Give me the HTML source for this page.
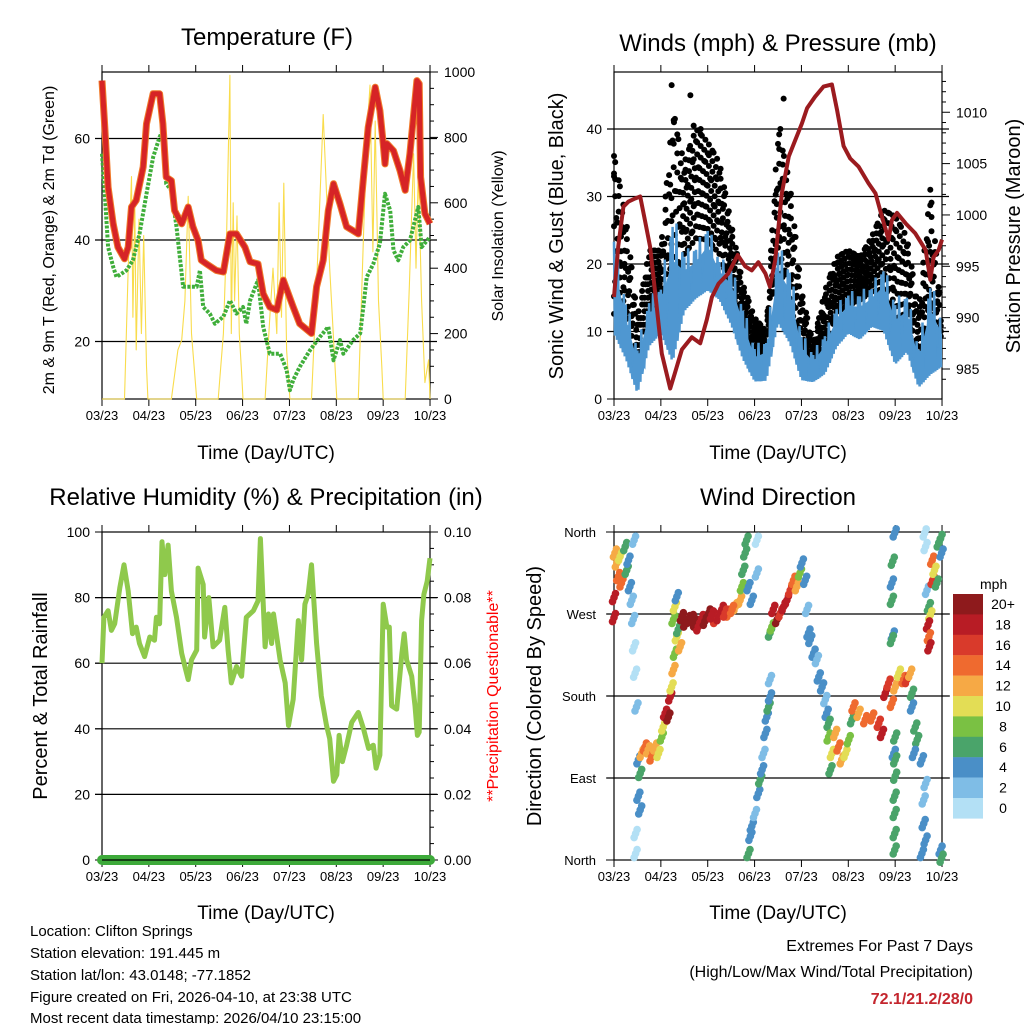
<!DOCTYPE html>
<html><head><meta charset="utf-8"><style>
html,body{margin:0;padding:0;background:#fff}
svg{display:block;font-family:"Liberation Sans",Arial,sans-serif}
</style></head><body>
<svg id="c" width="1024" height="1024" viewBox="0 0 1024 1024" xmlns="http://www.w3.org/2000/svg">
<rect width="1024" height="1024" fill="#fff"/>
<text x="267" y="45" font-size="24" text-anchor="middle">Temperature (F)</text>
<text x="778" y="51" font-size="24" text-anchor="middle">Winds (mph) &amp; Pressure (mb)</text>
<text x="266" y="505" font-size="24" text-anchor="middle">Relative Humidity (%) &amp; Precipitation (in)</text>
<text x="778" y="505" font-size="24" text-anchor="middle">Wind Direction</text>
<text x="266" y="459" font-size="19" text-anchor="middle">Time (Day/UTC)</text>
<text x="778" y="459" font-size="19" text-anchor="middle">Time (Day/UTC)</text>
<text x="266" y="919" font-size="19" text-anchor="middle">Time (Day/UTC)</text>
<text x="778" y="919" font-size="19" text-anchor="middle">Time (Day/UTC)</text>
<text transform="translate(54,240) rotate(-90)" font-size="16" text-anchor="middle">2m &amp; 9m T (Red, Orange) &amp; 2m Td (Green)</text>
<text transform="translate(503,236) rotate(-90)" font-size="16" text-anchor="middle">Solar Insolation (Yellow)</text>
<text transform="translate(563,236) rotate(-90)" font-size="20" text-anchor="middle">Sonic Wind &amp; Gust (Blue, Black)</text>
<text transform="translate(1020,236) rotate(-90)" font-size="20" text-anchor="middle">Station Pressure (Maroon)</text>
<text transform="translate(47,696) rotate(-90)" font-size="20" text-anchor="middle">Percent &amp; Total Rainfall</text>
<text transform="translate(498,696) rotate(-90)" font-size="16" fill="#ff0000" text-anchor="middle">**Precipitation Questionable**</text>
<text transform="translate(541,696) rotate(-90)" font-size="20" text-anchor="middle">Direction (Colored By Speed)</text>
<g font-size="15">
<text x="30" y="936">Location: Clifton Springs</text>
<text x="30" y="958">Station elevation: 191.445 m</text>
<text x="30" y="980">Station lat/lon: 43.0148; -77.1852</text>
<text x="30" y="1002">Figure created on Fri, 2026-04-10, at 23:38 UTC</text>
<text x="30" y="1023">Most recent data timestamp: 2026/04/10 23:15:00</text>
</g>
<text x="973" y="951" font-size="16" text-anchor="end">Extremes For Past 7 Days</text>
<text x="973" y="977" font-size="16" text-anchor="end">(High/Low/Max Wind/Total Precipitation)</text>
<text x="973" y="1004" font-size="16" font-weight="bold" fill="#c4262e" text-anchor="end">72.1/21.2/28/0</text>
</svg>
<script>
// ---- data ----
const dateLabels=["03/23","04/23","05/23","06/23","07/23","08/23","09/23","10/23"];
const tempT=[0,.06,.13,.24,.34,.48,.56,.63,.73,.88,.95,1.09,1.23,1.30,1.37,1.48,1.55,1.70,1.84,1.94,2.05,2.12,2.23,2.44,2.59,2.73,2.87,3.05,3.16,3.33,3.44,3.58,3.73,3.87,4.08,4.22,4.47,4.58,4.72,4.83,4.94,5.08,5.22,5.47,5.58,5.68,5.83,5.93,6.00,6.04,6.08,6.22,6.36,6.47,6.57,6.72,6.77,6.80,6.89,7.0];
const tempV=[71.4,62.2,50.4,43.2,38.6,36.3,38.6,46.5,47.8,54.4,62.9,68.8,68.8,62.9,52.4,51.7,45.8,43.2,46.5,42.6,39.9,36,35.3,34,33.7,41.2,41.2,38.6,35.7,35.3,29.4,26.8,26.2,32.1,26.8,23.5,21.6,30.8,36,45.8,51.1,47.1,42.6,41.2,52.4,62.2,70.1,65.5,59,55,59,57.6,53.7,49.8,57,71.4,70.8,52.4,45.2,43.2];
const dewT=[0,.06,.13,.24,.31,.52,.66,.80,.95,1.09,1.23,1.30,1.37,1.48,1.59,1.73,1.87,2.02,2.09,2.16,2.30,2.41,2.59,2.73,2.87,3.01,3.08,3.16,3.33,3.44,3.58,3.80,3.94,4.01,4.08,4.22,4.44,4.65,4.83,4.94,5.08,5.15,5.36,5.51,5.65,5.79,5.93,6.04,6.15,6.22,6.32,6.43,6.57,6.75,6.82,7];
const dewV=[57,49.1,38.6,34.7,32.7,34,36,41.2,49.1,56.3,60.3,61.6,51.1,49.8,42.6,30.8,30.8,30.8,34,26.8,25.5,23.5,24.9,28.1,25.5,26.8,23.5,28.1,32.1,22.9,17.6,17.6,14.4,10.4,12.4,15,18.3,20.9,22.9,16.3,20.3,17.6,20.3,21.6,32.7,35.3,39.3,49.1,45.8,38,36,38.6,39.9,46.5,38.6,40.6];
const solarT=[0,.48,.56,.63,.66,.70,.73,.79,.84,.89,.95,.98,1.48,1.62,1.70,1.77,1.84,1.91,2.02,2.48,2.59,2.66,2.73,2.76,2.80,2.83,2.88,2.93,2.98,3.01,3.48,3.58,3.65,3.73,3.78,3.83,3.88,3.94,4.01,4.47,4.58,4.72,4.86,5.01,5.47,5.58,5.65,5.72,5.78,5.83,5.90,5.97,6.00,6.47,6.56,6.65,6.70,6.75,6.82,6.89,6.97,7];
const solarV=[0,0,400,680,250,600,150,550,200,500,100,0,0,150,180,300,620,200,0,0,200,500,990,200,600,300,560,200,80,0,0,250,400,200,600,250,660,150,0,0,350,870,400,0,0,500,800,960,450,850,300,100,0,0,350,750,400,700,300,50,120,0];
const presT=[0,.09,.20,.31,.45,.56,.66,.77,.88,1.02,1.20,1.30,1.45,1.66,1.84,1.98,2.09,2.23,2.44,2.64,2.80,2.94,3.08,3.23,3.33,3.44,3.58,3.73,3.87,4.01,4.12,4.29,4.47,4.65,4.76,4.90,5.04,5.22,5.43,5.58,5.72,5.86,5.93,6.04,6.22,6.43,6.65,6.75,6.82,6.93,7];
const presV=[992,996.9,1000.8,1001.3,1001.6,1001.8,999.5,996.9,992.4,986.5,983.1,984.6,986.9,988.1,987.5,989.8,992,993.3,994.3,996.1,995,994.6,995.4,994.3,993,995.6,1002.1,1005.7,1007.3,1008.9,1010.4,1011.5,1012.5,1012.7,1010.2,1006.7,1005.5,1004.7,1003.1,1002.1,999.8,997.6,999.5,1000.2,999.2,998.2,996.6,993.7,995.9,996.6,997.6];
const windT=[0,.25,.5,.75,1,1.25,1.5,1.75,2,2.25,2.5,2.75,3,3.25,3.5,3.75,4,4.25,4.5,4.75,5,5.25,5.5,5.75,6,6.25,6.5,6.75,7];
const windLo=[8,5,0,7,9,3,12,14,15,14,10,5,2,2,10,7,2,2,3,7,9,8,10,9,4,6,1,2,4];
const windHi=[25,15,8,15,17,28,22,23,26,21,20,14,8,9,23,20,10,7,10,14,16,16,17,20,15,16,8,18,12];
const gustLo=[10,8,2,12,14,5,20,22,22,20,15,10,6,5,18,13,5,5,6,12,13,14,15,15,8,10,3,8,6];
const gustHi=[36,27,12,22,22,42,35,40,38,35,26,17,12,10,40,32,16,8,16,21,22,21,24,28,27,24,13,31,12];
const gustOutT=[0,0,1.23,1.28,1.30,1.63,1.70,1.85,3.55,3.62,6.75];
const gustOutV=[36,33,46.5,41,41.5,45,40.5,40,40,44.5,31];
const rhT=[0,.04,.13,.20,.27,.38,.47,.56,.65,.73,.80,.91,1.02,1.12,1.16,1.23,1.28,1.34,1.41,1.48,1.59,1.70,1.77,1.84,1.91,2.02,2.05,2.16,2.19,2.28,2.37,2.51,2.62,2.69,2.76,2.87,2.98,3.08,3.23,3.33,3.38,3.48,3.55,3.62,3.66,3.80,3.91,3.98,4.08,4.19,4.26,4.33,4.40,4.47,4.58,4.68,4.79,4.86,4.94,5.01,5.06,5.13,5.22,5.33,5.47,5.58,5.69,5.79,5.85,5.93,6.00,6.08,6.13,6.18,6.29,6.40,6.45,6.50,6.61,6.68,6.73,6.77,6.82,6.87,6.94,7];
const rhV=[60,74,76,70,72,83,90,82,69,71,66,62,68,67,74,72,97,87,96,82,74,63,59,55,61,64,89,84,68,80,65,67,77,64,54,59,56,74,76,79,98,65,75,66,75,61,54,41,49,73,61,78,81,90,66,50,41,37,24,26,38,30,35,42,45,40,34,35,28,32,78,71,71,47,46,63,69,61,56,47,38,39,73,81,85,92];
const precipT=[0,7];
const precipV=[0,0];
const dirT=[.02,.06,.09,.13,.16,.24,.27,.31,.34,.38,.41,.43,.45,.43,0,0,
.48,.52,.56,.52,.56,.59,.66,.73,.80,.88,.95,1.02,1.05,1.09,1.16,1.20,1.23,1.27,1.30,1.34,1.37,1.41,1.27,1.30,1.34,.46,.46,
1.45,1.59,1.73,1.87,2.02,2.16,2.30,2.44,2.59,2.69,2.73,2.76,2.80,2.83,2.87,2.94,3.05,3.05,1.52,1.66,1.80,1.94,2.09,2.23,2.37,2.52,
2.87,2.91,2.94,3.01,3.08,3.12,3.16,3.19,3.23,3.26,3.30,3.33,3.33,3.33,3.37,
3.40,3.48,3.55,3.62,3.69,3.76,3.83,3.90,3.97,4.01,4.08,4.12,4.15,
4.19,4.26,4.33,4.37,4.44,4.51,4.54,4.58,
4.58,4.65,4.72,4.79,4.86,4.94,5.01,5.08,4.62,
5.11,5.22,5.36,5.51,5.65,5.72,5.79,5.86,5.93,6.0,6.08,6.18,6.25,6.32,6.36,
5.99,5.95,5.93,5.93,5.95,5.93,6.0,5.97,6.0,6.0,5.99,5.99,5.99,5.99,
6.36,6.43,6.47,6.40,6.57,6.65,6.61,6.61,6.65,6.57,6.63,6.65,6.68,6.72,6.75,6.70,6.72,6.73,6.79,6.80,6.84,6.89,6.93,6.97,6.99,6.97,6.99];
const dirV=[337,326,311,333,304,344,318,329,300,285,264,234,205,351,288,266,
168,110,95,70,55,117,124,121,113,124,117,135,146,161,157,179,190,209,227,245,253,234,264,278,289,29,7,
267,264,260,265,271,264,275,271,278,285,300,318,337,351,300,285,315,351,260,265,256,262,269,267,271,275,
7,26,37,51,73,88,99,117,139,157,168,179,198,249,256,
275,264,271,278,285,296,307,300,315,326,307,275,249,
242,227,220,201,190,176,161,150,
135,117,139,124,110,117,132,154,99,
168,161,154,157,150,139,183,194,172,190,205,198,198,205,183,
359,328,304,285,247,242,135,117,110,92,70,51,29,11,
168,146,132,117,110,84,66,40,22,7,359,344,296,278,269,258,245,234,329,307,318,304,348,353,337,11,2];
const dirSpd=[13,12,15,11,14,7,6,5,4,3,2,1,1,2,19,19,
2,4,6,5,4,12,14,12,14,12,10,8,11,18,20,18,10,12,8,10,6,13,9,11,4,1,1,
20,21,20,19,20,17,18,15,13,12,8,7,6,7,5,4,3,1,20,21,19,20,19,18,17,14,
6,5,4,3,4,6,4,3,4,5,6,4,3,7,8,
19,20,17,19,18,16,14,12,8,4,5,3,4,
4,4,3,4,4,3,5,7,
8,10,13,14,12,11,8,7,7,
14,13,15,15,17,18,18,16,15,12,10,14,16,12,7,
4,6,4,7,4,7,6,4,6,6,6,6,6,7,
5,7,6,4,4,3,2,4,4,4,1,1,3,7,10,18,15,19,15,17,10,6,7,6,4,4,6];
const legendLabels=["20+","18","16","14","12","10","8","6","4","2","0"];
const legendColors=["#8e1a1c","#b81c25","#d93a2b","#ef6a2f","#f6a945","#e3dd55","#7ac143","#4aa46a","#4a8fc7","#7fbde6","#b3e0f5"];

// ---- helpers ----
const NS="http://www.w3.org/2000/svg";
const svg=document.getElementById('c');
function mk(tag,attrs,parent){const e=document.createElementNS(NS,tag);for(const k in attrs)e.setAttribute(k,attrs[k]);(parent||svg).appendChild(e);return e;}
function grp(){const g=document.createElementNS(NS,'g');svg.appendChild(g);return g;}
const DAY=46.86;
const P={
 temp:{x0:102,x1:430,y0:72,y1:399},
 wind:{x0:614,x1:942,y0:72,y1:399},
 rh:{x0:102,x1:430,y0:532,y1:860},
 dir:{x0:614,x1:942,y0:532,y1:860}
};
function X(p,t){return P[p].x0+t*DAY;}
const yT=v=>240-(v-40)*5.075, yS=v=>399-v*0.327, yW=v=>399-v*6.75, yP=v=>369-(v-985)*10.27, yR=v=>860-v*3.28, yD=v=>860-v*328/360;
function pts(p,ts,vs,fy){return ts.map((t,i)=>X(p,t).toFixed(1)+','+fy(vs[i]).toFixed(1)).join(' ');}
function spdColor(s){let i=Math.min(10,Math.floor(s/2));return legendColors[10-i];}

// ---- axes frames ----
function frame(p,name,leftTicks,fyL,rightTicks,fyR,rightMinor,gridVals,fyG){
 const c=P[p];const g=grp();
 
 
 gridVals.forEach(v=>{const l=mk('line',{x1:c.x0-7,x2:c.x1+7,y1:fyG(v),y2:fyG(v),stroke:'#000','stroke-width':1.2},g);
  
  });
 leftTicks.forEach(v=>{const y=fyL(v);mk('line',{x1:c.x0-7,x2:c.x0,y1:y,y2:y,stroke:'#000'},g);
  const t=mk('text',{x:c.x0-12,y:y+5,'font-size':14,'text-anchor':'end'},g);t.textContent=v;
  
  });
 rightTicks.forEach(v=>{const y=fyR(v);mk('line',{x1:c.x1,x2:c.x1+8,y1:y,y2:y,stroke:'#000'},g);
  const t=mk('text',{x:c.x1+14,y:y+5,'font-size':14},g);t.textContent=(typeof v==='number'&&p==='rh')?v.toFixed(2):v;
  
  });
 rightMinor.forEach(v=>{const y=fyR(v);mk('line',{x1:c.x1,x2:c.x1+4,y1:y,y2:y,stroke:'#000'},g);});
 dateLabels.forEach((d,i)=>{const x=X(p,i);
  mk('line',{x1:x,x2:x,y1:c.y0-7,y2:c.y0,stroke:'#000'},g);
  mk('line',{x1:x,x2:x,y1:c.y1,y2:c.y1+7,stroke:'#000'},g);
  const t=mk('text',{x:x,y:c.y1+21,'font-size':13,'text-anchor':'middle'},g);t.textContent=d;
  
  });
 const r=mk('rect',{x:c.x0,y:c.y0,width:c.x1-c.x0,height:c.y1-c.y0,fill:'none',stroke:'#000','stroke-width':1.2},g);
 
 
}
frame('temp','temperature',[20,40,60],yT,[0,200,400,600,800,1000],yS,[50,100,150,250,300,350,450,500,550,650,700,750,850,900,950],[20,40,60],yT);
frame('wind','winds',[0,10,20,30,40],yW,[985,990,995,1000,1005,1010],yP,[984,986,987,988,989,991,992,993,994,996,997,998,999,1001,1002,1003,1004,1006,1007,1008,1009,1011,1012,1013],[10,20,30,40],yW);
frame('rh','humidity',[0,20,40,60,80,100],yR,[0,0.02,0.04,0.06,0.08,0.10],v=>860-v*3280,[0.01,0.03,0.05,0.07,0.09,0.005,0.015,0.025,0.035,0.045,0.055,0.065,0.075,0.085,0.095],[20,40,60,80],yR);
frame('dir','direction',[],yD,[],yD,[],[90,180,270],yD);
const dirNames=["North","East","South","West","North"];
dirNames.forEach((n,i)=>{const y=yD(i*90);
 mk('line',{x1:P.dir.x0-8,x2:P.dir.x0,y1:y,y2:y,stroke:'#000'});
 mk('line',{x1:P.dir.x1,x2:P.dir.x1+8,y1:y,y2:y,stroke:'#000'});
 const t=mk('text',{x:596,y:y+5,'font-size':13,'text-anchor':'end'});t.textContent=n;
 
 });

// ---- temperature series ----
const gT=grp();


const sol=mk('polyline',{points:pts('temp',solarT,solarV,yS),fill:'none',stroke:'#f9dc4c','stroke-width':1.1,'stroke-linejoin':'round'},gT);


const dew=mk('polyline',{points:pts('temp',dewT,dewV,yT),fill:'none',stroke:'#3fae3a','stroke-width':4,'stroke-dasharray':'3 1.5','stroke-linejoin':'round'},gT);


const t9=mk('polyline',{points:pts('temp',tempT,tempV,yT),fill:'none',stroke:'#f07a2a','stroke-width':7,'stroke-linejoin':'round'},gT);


const t2=mk('polyline',{points:pts('temp',tempT,tempV,yT),fill:'none',stroke:'#d62426','stroke-width':5,'stroke-linejoin':'round'},gT);



// ---- wind series ----
const gW=grp();


const pattern=[0.9,0.3,0.7,0.1,1,0.5,0.2,0.8,0.4,0.6];
const lerp=(a,b,f)=>a+(b-a)*f;
for(let i=0;i<windT.length-1;i++){
 for(let k=0;k<pattern.length;k++){const f=k/pattern.length;const t=lerp(windT[i],windT[i+1],f);
  const lo=lerp(gustLo[i],gustLo[i+1],f),hi=lerp(gustHi[i],gustHi[i+1],f);
  for(let j=0;j<4;j++){const v=lo+(hi-lo)*pattern[(k+j*3)%pattern.length];
   const d=mk('circle',{cx:X('wind',t).toFixed(1),cy:yW(v).toFixed(1),r:3,fill:'#000'},gW);
   
   }
 }
}
gustOutT.forEach((t,i)=>{const d=mk('circle',{cx:X('wind',t),cy:yW(gustOutV[i]),r:3,fill:'#000'},gW);
 
 });
let zig=[];
for(let i=0;i<windT.length-1;i++){for(let k=0;k<12;k++){const f=k/12;const t=lerp(windT[i],windT[i+1],f);
 const lo=lerp(windLo[i],windLo[i+1],f),hi=lerp(windHi[i],windHi[i+1],f);
 const v=k%2?lo+(hi-lo)*0.1:lo+(hi-lo)*pattern[k%pattern.length];
 zig.push(X('wind',t).toFixed(1)+','+yW(v).toFixed(1));}}
const band=mk('polygon',{points:pts('wind',windT,windHi.map((h,i)=>lerp(windLo[i],h,0.7)),yW)+' '+pts('wind',windT.slice().reverse(),windLo.slice().reverse().map((l,i)=>lerp(l,windHi[windHi.length-1-i],0.2)),yW),fill:'#4f97d1'},gW);


const wz=mk('polyline',{points:zig.join(' '),fill:'none',stroke:'#4f97d1','stroke-width':2.5},gW);


const pres=mk('polyline',{points:pts('wind',presT,presV,yP),fill:'none',stroke:'#9b1b1f','stroke-width':4,'stroke-linejoin':'round'},gW);



// ---- RH series ----
const gR=grp();


const rh=mk('polyline',{points:pts('rh',rhT,rhV,yR),fill:'none',stroke:'#8fc94c','stroke-width':5,'stroke-linejoin':'round'},gR);


const pr=mk('polyline',{points:pts('rh',precipT,precipV,v=>860-v*3280),fill:'none',stroke:'#3daa3a','stroke-width':10,'stroke-linecap':'round'},gR);


mk('line',{x1:102,x2:430,y1:860,y2:860,stroke:'#000','stroke-width':1.2},gR);

// ---- direction scatter ----
const gD=grp();


const offs=[[1.5,-4],[-1.5,4],[0,0]];
dirT.forEach((t,i)=>{offs.forEach(o=>{const c=mk('circle',{cx:(X('dir',t)+o[0]).toFixed(1),cy:(yD(dirV[i])+o[1]).toFixed(1),r:3.8,fill:spdColor(dirSpd[i])},gD);
 
 });});

// ---- legend ----
const gL=grp();


const lt=mk('text',{x:980,y:589,'font-size':14},gL);lt.textContent='mph';


legendLabels.forEach((l,i)=>{const y=594+i*20.4;
 const r=mk('rect',{x:953,y:y,width:30,height:20.6,fill:legendColors[i]},gL);
 
 
 const t=mk('text',{x:1003,y:y+15,'font-size':14,'text-anchor':'middle'},gL);t.textContent=l;
 
 });
</script>
</body></html>
